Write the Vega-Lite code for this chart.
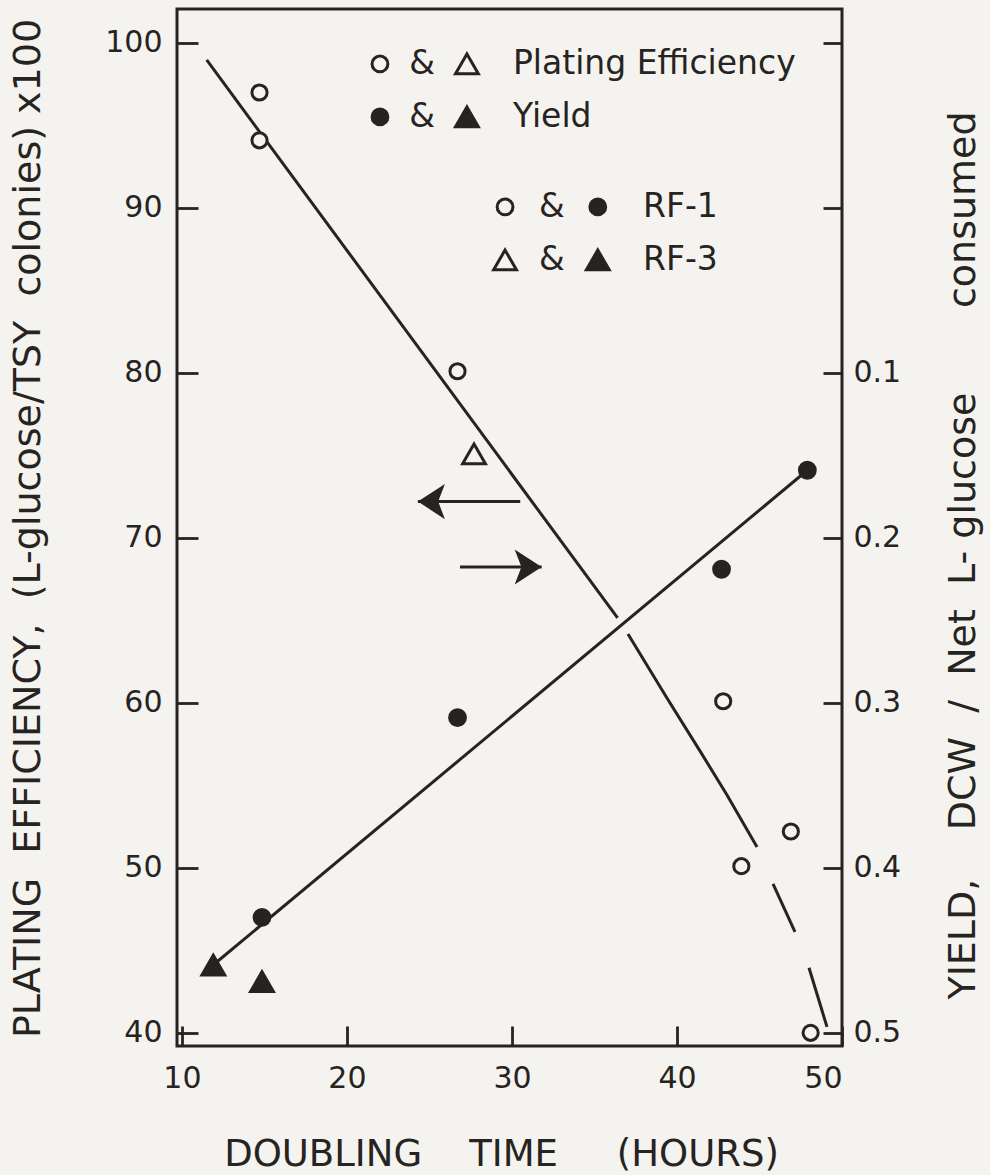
{
  "$schema": "https://vega.github.io/schema/vega-lite/v6.json",
  "width": 665,
  "height": 1037,
  "autosize": "none",
  "padding": {"left": 177, "top": 9, "right": 148, "bottom": 129},
  "background": "#f4f3ef",
  "config": {
    "view": {"stroke": "#262321", "strokeWidth": 3},
    "font": "DejaVu Sans",
    "axis": {
      "domain": false,
      "grid": false,
      "tickColor": "#262321",
      "tickWidth": 2.8,
      "labelColor": "#262321",
      "labelFont": "DejaVu Sans",
      "labelFontSize": 30,
      "titleColor": "#262321",
      "titleFont": "DejaVu Sans",
      "titleFontWeight": "normal"
    }
  },
  "datasets": {
    "pe_points": [
      {"time": 14.7, "pe": 97.0, "strain": "RF-1"},
      {"time": 14.7, "pe": 94.1, "strain": "RF-1"},
      {"time": 26.7, "pe": 80.1, "strain": "RF-1"},
      {"time": 27.7, "pe": 75.1, "strain": "RF-3"},
      {"time": 42.8, "pe": 60.1, "strain": "RF-1"},
      {"time": 43.9, "pe": 50.1, "strain": "RF-1"},
      {"time": 46.9, "pe": 52.2, "strain": "RF-1"},
      {"time": 48.1, "pe": 40.0, "strain": "RF-1"}
    ],
    "pe_curve": [
      {"seg": "A", "time": 11.5, "pe": 98.97},
      {"seg": "A", "time": 36.4, "pe": 65.15},
      {"seg": "B", "time": 37.03, "pe": 64.18},
      {"seg": "B", "time": 39.39, "pe": 60.3},
      {"seg": "B", "time": 41.39, "pe": 57.09},
      {"seg": "B", "time": 43.03, "pe": 54.42},
      {"seg": "B", "time": 44.85, "pe": 51.27},
      {"seg": "C", "time": 45.82, "pe": 49.03},
      {"seg": "C", "time": 47.15, "pe": 46.12},
      {"seg": "D", "time": 48.0, "pe": 43.94},
      {"seg": "D", "time": 49.09, "pe": 40.36}
    ],
    "yield_points": [
      {"time": 11.9, "yield": 0.459, "strain": "RF-3"},
      {"time": 14.85, "yield": 0.469, "strain": "RF-3"},
      {"time": 14.85, "yield": 0.43, "strain": "RF-1"},
      {"time": 26.7, "yield": 0.309, "strain": "RF-1"},
      {"time": 42.7, "yield": 0.219, "strain": "RF-1"},
      {"time": 47.9, "yield": 0.159, "strain": "RF-1"}
    ],
    "yield_fit": [
      {"time": 12.0, "yield": 0.458},
      {"time": 47.9, "yield": 0.159}
    ],
    "arrows": [
      {"x_tail": 30.5, "x_tip": 24.3, "y": 72.2, "dir": "left"},
      {"x_tail": 26.85, "x_tip": 31.8, "y": 68.24, "dir": "right"}
    ],
    "legend": [
      {"y": 98.73, "x1": 22.0, "xa": 24.55, "x2": 27.27, "xt": 30.06, "s1": "circle", "f1": "open", "s2": "triangle", "f2": "open", "label": "Plating Efficiency"},
      {"y": 95.52, "x1": 22.0, "xa": 24.55, "x2": 27.27, "xt": 30.06, "s1": "circle", "f1": "filled", "s2": "triangle", "f2": "filled", "label": "Yield"},
      {"y": 90.06, "x1": 29.58, "xa": 32.42, "x2": 35.2, "xt": 37.94, "s1": "circle", "f1": "open", "s2": "circle", "f2": "filled", "label": "RF-1"},
      {"y": 86.85, "x1": 29.58, "xa": 32.42, "x2": 35.2, "xt": 37.94, "s1": "triangle", "f1": "open", "s2": "triangle", "f2": "filled", "label": "RF-3"}
    ]
  },
  "layer": [
    {
      "layer": [
        {
          "data": {"name": "pe_curve"},
          "mark": {"type": "line", "color": "#262321", "strokeWidth": 3},
          "encoding": {
            "x": {
              "field": "time", "type": "quantitative",
              "scale": {"domain": [9.7, 50], "nice": false, "zero": false},
              "axis": {
                "values": [10, 20, 30, 40, 50],
                "offset": -20, "tickSize": 20, "labelPadding": 17,
                "title": "DOUBLING\u00a0\u00a0\u00a0\u00a0TIME\u00a0\u00a0\u00a0\u00a0\u00a0(HOURS)",
                "titleFontSize": 37,
                "titleX": 324, "titleY": 139,
                "titleAlign": "center", "titleBaseline": "alphabetic", "titleAnchor": "middle"
              }
            },
            "y": {
              "field": "pe", "type": "quantitative",
              "scale": {"domain": [39.2, 102.06], "nice": false, "zero": false},
              "axis": {
                "orient": "left",
                "values": [40, 50, 60, 70, 80, 90, 100],
                "offset": -21, "tickSize": 21, "labelPadding": 15,
                "title": "PLATING\u00a0\u00a0EFFICIENCY,\u00a0\u00a0(L-glucose/TSY\u00a0\u00a0colonies)\u00a0x100",
                "titleFontSize": 38,
                "titleAngle": 270,
                "titleX": -170, "titleY": 519,
                "titleAlign": "center", "titleBaseline": "middle", "titleAnchor": "middle"
              }
            },
            "detail": {"field": "seg", "type": "nominal"}
          }
        },
        {
          "data": {"name": "pe_points"},
          "mark": {"type": "point", "filled": true, "fill": "#f4f3ef", "stroke": "#262321", "strokeWidth": 3, "opacity": 1},
          "encoding": {
            "x": {"field": "time", "type": "quantitative"},
            "y": {"field": "pe", "type": "quantitative"},
            "shape": {"field": "strain", "type": "nominal", "scale": {"domain": ["RF-1", "RF-3"], "range": ["circle", "triangle-up"]}, "legend": null},
            "size": {"field": "strain", "type": "nominal", "scale": {"domain": ["RF-1", "RF-3"], "range": [230, 520]}, "legend": null}
          }
        },
        {
          "data": {"name": "arrows"},
          "mark": {"type": "rule", "color": "#262321", "strokeWidth": 3},
          "encoding": {
            "x": {"field": "x_tail", "type": "quantitative"},
            "x2": {"field": "x_tip"},
            "y": {"field": "y", "type": "quantitative"}
          }
        },
        {
          "data": {"name": "arrows"},
          "mark": {"type": "point", "filled": true, "color": "#262321", "opacity": 1},
          "encoding": {
            "x": {"field": "x_tip", "type": "quantitative"},
            "y": {"field": "y", "type": "quantitative"},
            "shape": {"field": "dir", "type": "nominal", "scale": {"domain": ["left", "right"], "range": ["M 0 0 L 2 -1.3 L 1.5 0 L 2 1.3 Z", "M 0 0 L -2 -1.3 L -1.5 0 L -2 1.3 Z"]}, "legend": null},
            "size": {"value": 729}
          }
        },
        {
          "data": {"name": "legend"},
          "mark": {"type": "point", "filled": true, "stroke": "#262321", "strokeWidth": 3, "opacity": 1},
          "encoding": {
            "x": {"field": "x1", "type": "quantitative"},
            "y": {"field": "y", "type": "quantitative"},
            "shape": {"field": "s1", "type": "nominal", "scale": {"domain": ["circle", "triangle"], "range": ["circle", "triangle-up"]}, "legend": null},
            "size": {"field": "s1", "type": "nominal", "scale": {"domain": ["circle", "triangle"], "range": [250, 520]}, "legend": null},
            "fill": {"field": "f1", "type": "nominal", "scale": {"domain": ["open", "filled"], "range": ["#f4f3ef", "#262321"]}, "legend": null}
          }
        },
        {
          "data": {"name": "legend"},
          "mark": {"type": "point", "filled": true, "stroke": "#262321", "strokeWidth": 3, "opacity": 1},
          "encoding": {
            "x": {"field": "x2", "type": "quantitative"},
            "y": {"field": "y", "type": "quantitative"},
            "shape": {"field": "s2", "type": "nominal", "scale": {"domain": ["circle", "triangle"], "range": ["circle", "triangle-up"]}, "legend": null},
            "size": {"field": "s2", "type": "nominal", "scale": {"domain": ["circle", "triangle"], "range": [250, 520]}, "legend": null},
            "fill": {"field": "f2", "type": "nominal", "scale": {"domain": ["open", "filled"], "range": ["#f4f3ef", "#262321"]}, "legend": null}
          }
        },
        {
          "data": {"name": "legend"},
          "mark": {"type": "text", "text": "&", "font": "DejaVu Sans", "fontSize": 33, "align": "center", "baseline": "middle", "color": "#262321"},
          "encoding": {
            "x": {"field": "xa", "type": "quantitative"},
            "y": {"field": "y", "type": "quantitative"}
          }
        },
        {
          "data": {"name": "legend"},
          "mark": {"type": "text", "font": "DejaVu Sans", "fontSize": 33, "align": "left", "baseline": "middle", "color": "#262321"},
          "encoding": {
            "x": {"field": "xt", "type": "quantitative"},
            "y": {"field": "y", "type": "quantitative"},
            "text": {"field": "label", "type": "nominal"}
          }
        }
      ],
      "resolve": {"scale": {"shape": "independent", "size": "independent", "fill": "independent"}}
    },
    {
      "layer": [
        {
          "data": {"name": "yield_fit"},
          "mark": {"type": "line", "color": "#262321", "strokeWidth": 3},
          "encoding": {
            "x": {"field": "time", "type": "quantitative"},
            "y": {
              "field": "yield", "type": "quantitative",
              "scale": {"domain": [-0.1206, 0.508], "reverse": true, "nice": false, "zero": false},
              "axis": {
                "orient": "right",
                "values": [-0.1, 0, 0.1, 0.2, 0.3, 0.4, 0.5],
                "labelExpr": "datum.value > 0.05 ? format(datum.value, '.1f') : ''",
                "offset": -19, "tickSize": 19, "labelPadding": 11,
                "title": "YIELD,\u00a0\u00a0\u00a0\u00a0DCW\u00a0\u00a0/\u00a0\u00a0Net\u00a0\u00a0L-\u00a0glucose\u00a0\u00a0\u00a0\u00a0\u00a0\u00a0\u00a0consumed",
                "titleFontSize": 38,
                "titleAngle": 270,
                "titleX": 140, "titleY": 546,
                "titleAlign": "center", "titleBaseline": "middle", "titleAnchor": "middle"
              }
            }
          }
        },
        {
          "data": {"name": "yield_points"},
          "mark": {"type": "point", "filled": true, "color": "#262321", "stroke": "#262321", "strokeWidth": 3, "opacity": 1},
          "encoding": {
            "x": {"field": "time", "type": "quantitative"},
            "y": {"field": "yield", "type": "quantitative"},
            "shape": {"field": "strain", "type": "nominal", "scale": {"domain": ["RF-1", "RF-3"], "range": ["circle", "triangle-up"]}, "legend": null},
            "size": {"field": "strain", "type": "nominal", "scale": {"domain": ["RF-1", "RF-3"], "range": [250, 520]}, "legend": null}
          }
        }
      ]
    }
  ],
  "resolve": {"scale": {"y": "independent", "shape": "independent", "size": "independent", "fill": "independent"}}
}
